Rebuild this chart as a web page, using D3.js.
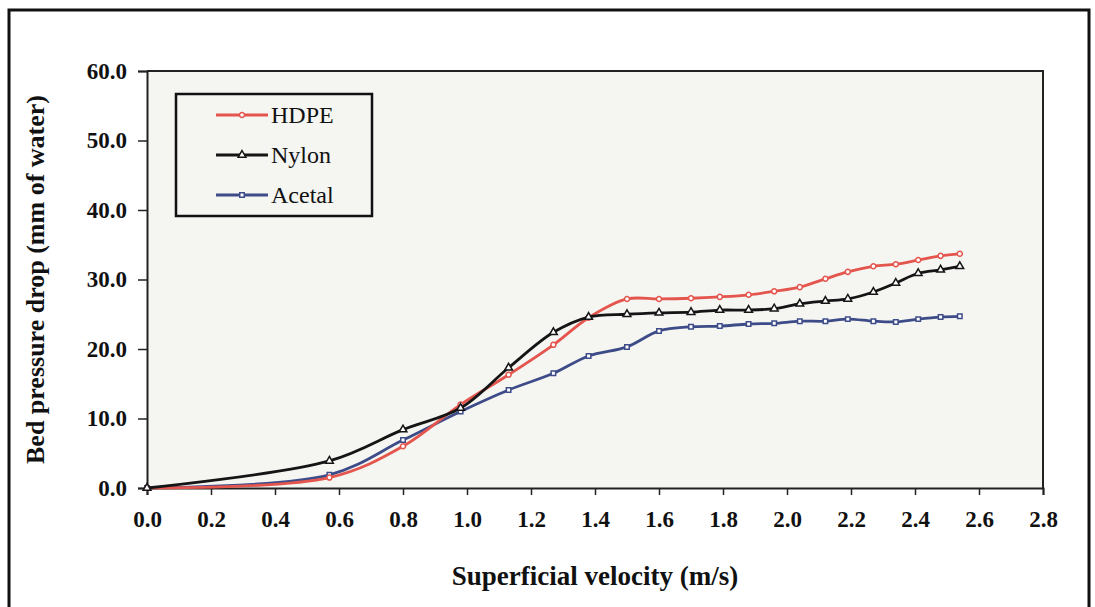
<!DOCTYPE html>
<html>
<head>
<meta charset="utf-8">
<script src="https://cdn.jsdelivr.net/npm/d3@7"></script>
<style>
  body { margin: 0; background: #fff; }
  svg { display: block; font-family: "Liberation Serif", "Times New Roman", serif; }
</style>
</head>
<body>
<div id="chart"></div>
<script>
// velocity points (m/s)
var velocity = [0, 0.57, 0.80, 0.98, 1.13, 1.27, 1.38, 1.50, 1.60, 1.70, 1.79, 1.88, 1.96, 2.04, 2.12, 2.19, 2.27, 2.34, 2.41, 2.48, 2.54];
var hdpe   = [0, 1.5, 6.0, 12.0, 16.3, 20.6, 24.5, 27.2, 27.2, 27.3, 27.5, 27.8, 28.3, 28.9, 30.1, 31.1, 31.9, 32.2, 32.8, 33.4, 33.7];
var nylon  = [0, 3.9, 8.4, 11.5, 17.3, 22.4, 24.6, 25.0, 25.2, 25.3, 25.6, 25.6, 25.8, 26.5, 26.9, 27.2, 28.2, 29.5, 30.9, 31.4, 31.9];
var acetal = [0, 1.9, 6.9, 11.0, 14.1, 16.5, 19.0, 20.3, 22.6, 23.2, 23.3, 23.6, 23.7, 24.0, 24.0, 24.3, 24.0, 23.9, 24.3, 24.6, 24.7];
var seriesNames = ["HDPE", "Nylon", "Acetal"];
var xTicks = [0, 0.2, 0.4, 0.6, 0.8, 1.0, 1.2, 1.4, 1.6, 1.8, 2.0, 2.2, 2.4, 2.6, 2.8];
var yTicks = [0, 10, 20, 30, 40, 50, 60];

var W = 1095, H = 607;
var margin = {top: 71, right: 52, bottom: 119, left: 147},
    width = W - margin.left - margin.right,
    height = H - margin.top - margin.bottom;

var svg = d3.select("#chart").append("svg")
    .attr("width", W)
    .attr("height", H);

// outer frame (bottom edge cut off in the original)
svg.append("path")
    .attr("d", "M9,607 V10 H1089 V607")
    .attr("fill", "none")
    .attr("stroke", "#111")
    .attr("stroke-width", 3);

var g = svg.append("g")
    .attr("transform", "translate(" + margin.left + "," + margin.top + ")");

var x = d3.scaleLinear().domain([0, 2.8]).range([0, width]);
var y = d3.scaleLinear().domain([0, 60]).range([height, 0]);

g.append("rect")
    .attr("width", width)
    .attr("height", height)
    .attr("fill", "#f5f5f2");

// top and right border of plot
g.append("path")
    .attr("d", "M0,0 H" + width + " V" + height)
    .attr("fill", "none")
    .attr("stroke", "#222")
    .attr("stroke-width", 2);

var xAxis = g.append("g")
    .attr("transform", "translate(0," + height + ")")
    .call(d3.axisBottom(x).tickValues(xTicks).tickSize(7).tickPadding(16).tickFormat(d3.format(".1f")));

var yAxis = g.append("g")
    .call(d3.axisLeft(y).tickValues(yTicks).tickSize(9).tickPadding(11).tickFormat(d3.format(".1f")));

[xAxis, yAxis].forEach(function(a) {
  a.select(".domain").attr("stroke", "#222").attr("stroke-width", 2);
  a.selectAll(".tick line").attr("stroke", "#222").attr("stroke-width", 1.5);
  a.selectAll(".tick text")
      .attr("fill", "#111")
      .style("font-size", "23px")
      .style("font-weight", "bold")
      .style("font-family", "'Liberation Serif', serif");
});

var colors = {HDPE: "#e4554d", Nylon: "#151515", Acetal: "#3d4c88"};
var shapes = {HDPE: d3.symbolCircle, Nylon: d3.symbolTriangle, Acetal: d3.symbolSquare};
var values = {HDPE: hdpe, Nylon: nylon, Acetal: acetal};

var line = d3.line()
    .x(function(d) { return x(d[0]); })
    .y(function(d) { return y(d[1]); })
    .curve(d3.curveCatmullRom.alpha(0.5));

// draw Acetal first, HDPE on top of Nylon like the original
["Acetal", "HDPE", "Nylon"].forEach(function(name) {
  var pts = velocity.map(function(v, i) { return [v, values[name][i]]; });
  g.append("path")
      .datum(pts)
      .attr("fill", "none")
      .attr("stroke", colors[name])
      .attr("stroke-width", 2.8)
      .attr("d", line);
  g.selectAll(".pt-" + name)
      .data(pts)
      .enter().append("path")
      .attr("transform", function(d) { return "translate(" + x(d[0]) + "," + y(d[1]) + ")"; })
      .attr("d", d3.symbol().type(shapes[name]).size(name === "Nylon" ? 26 : 20))
      .attr("fill", "#fff")
      .attr("stroke", colors[name])
      .attr("stroke-width", 1.5);
});

// legend
var legend = svg.append("g");
legend.append("rect")
    .attr("x", 176).attr("y", 94)
    .attr("width", 196).attr("height", 122)
    .attr("fill", "none")
    .attr("stroke", "#111")
    .attr("stroke-width", 2.5);

var item = legend.selectAll(".item")
    .data(seriesNames)
    .enter().append("g")
    .attr("transform", function(d, i) { return "translate(216," + (115 + i * 40) + ")"; });

item.append("line")
    .attr("x1", 0).attr("x2", 52)
    .attr("stroke", function(d) { return colors[d]; })
    .attr("stroke-width", 2.8);

item.append("path")
    .attr("transform", "translate(26,0)")
    .attr("d", function(d) { return d3.symbol().type(shapes[d]).size(d === "Nylon" ? 26 : 20)(); })
    .attr("fill", "#fff")
    .attr("stroke", function(d) { return colors[d]; })
    .attr("stroke-width", 1.5);

item.append("text")
    .attr("x", 55)
    .attr("dy", "0.35em")
    .attr("fill", "#111")
    .style("font-size", "24px")
    .text(function(d) { return d; });

// axis titles
svg.append("text")
    .attr("transform", "translate(44," + (margin.top + height / 2) + ") rotate(-90)")
    .attr("text-anchor", "middle")
    .attr("fill", "#111")
    .style("font-size", "26px")
    .style("font-weight", "bold")
    .text("Bed pressure drop (mm of water)");

svg.append("text")
    .attr("x", margin.left + width / 2)
    .attr("y", 585)
    .attr("text-anchor", "middle")
    .attr("fill", "#111")
    .style("font-size", "27px")
    .style("font-weight", "bold")
    .text("Superficial velocity (m/s)");
</script>
</body>
</html>
